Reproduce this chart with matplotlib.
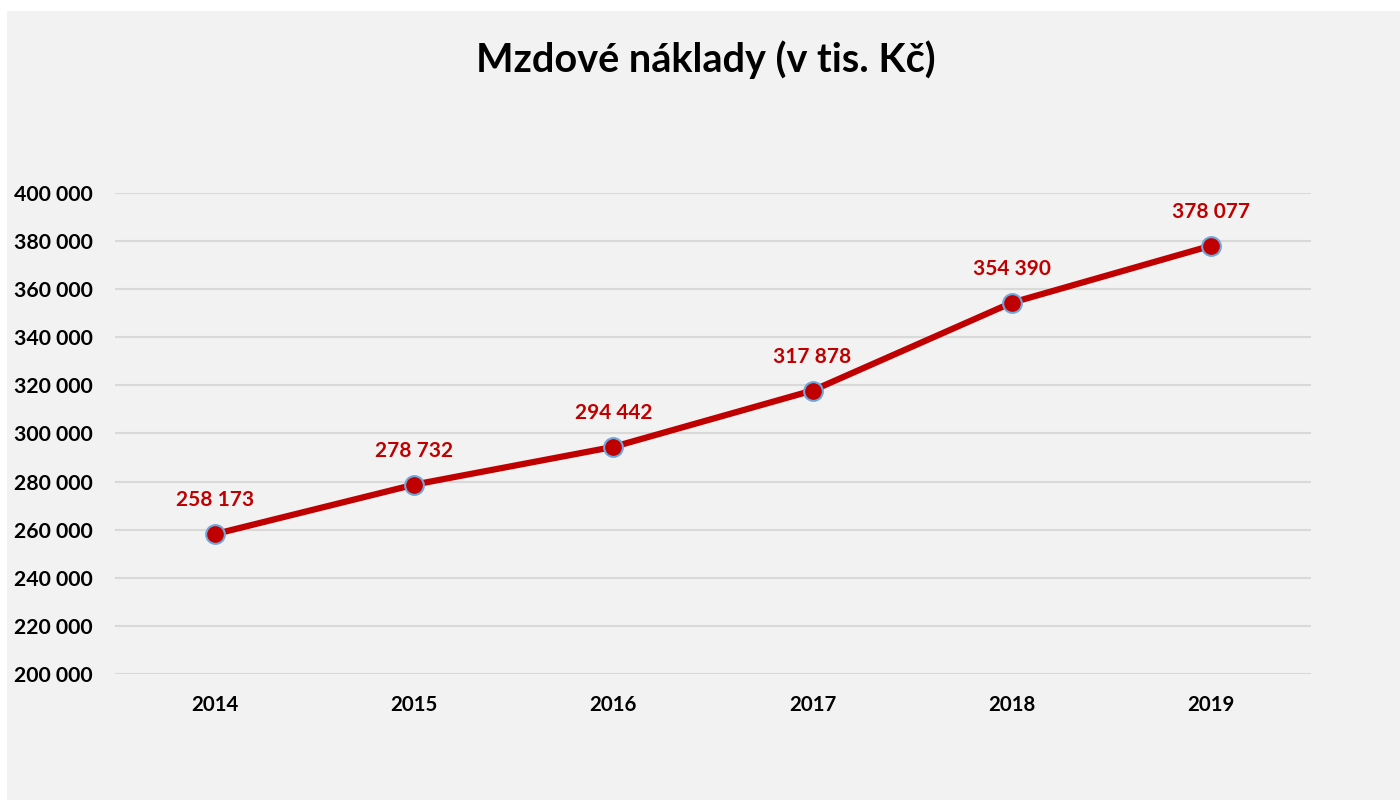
import matplotlib.pyplot as plt
from matplotlib.patches import Rectangle

years = ["2014", "2015", "2016", "2017", "2018", "2019"]
costs = [258173, 278732, 294442, 317878, 354390, 378077]
y_ticks = list(range(200000, 400001, 20000))

RED = "#C00000"
plt.rcParams['font.family'] = ['Lato', 'DejaVu Sans']


def fmt(v):
    # Czech style thousands separator (space)
    return "{:,}".format(v).replace(",", " ")


fig = plt.figure(figsize=(14, 8.01), dpi=100)
fig.patch.set_facecolor("white")
# light gray chart panel, behind the axes
fig.patches.append(Rectangle((7 / 1400, 1 / 801), 1 - 7 / 1400, 1 - 12 / 801,
                             transform=fig.transFigure, facecolor="#f2f2f2",
                             edgecolor="none", zorder=-5))

ax = fig.add_axes([115.4 / 1400, 1 - 674 / 801, 1195.2 / 1400, 481 / 801])
ax.set_facecolor("none")

x = list(range(len(years)))
ax.plot(x, costs, color=RED, linewidth=4.5, marker="o", markersize=13.5,
        markerfacecolor=RED, markeredgecolor="#6fa8dc", markeredgewidth=1.5,
        zorder=3)

for xi, v in zip(x, costs):
    ax.annotate(fmt(v), (xi, v), xytext=(0, 20), textcoords="offset points",
                ha="center", va="baseline", color=RED, fontsize=15,
                fontweight="bold")

ax.set_xlim(-0.5, len(years) - 0.5)
ax.set_ylim(200000, 400000)
ax.set_yticks(y_ticks)
ax.set_yticklabels([fmt(t) for t in y_ticks], fontsize=15.3, fontweight="bold")
ax.set_xticks(x)
ax.set_xticklabels(years, fontsize=14.7, fontweight="bold")
ax.tick_params(length=0)
ax.tick_params(axis="y", pad=16.5)
ax.tick_params(axis="x", pad=15)
for s in ax.spines.values():
    s.set_visible(False)
ax.yaxis.grid(True, color="#d9d9d9", linewidth=1.5)
ax.set_axisbelow(True)

fig.text(706 / 1400, 1 - 60 / 801, "Mzdové náklady (v tis. Kč)", ha="center",
         va="center", fontsize=28.5, fontweight="bold")

plt.savefig("out.png", dpi=100)
